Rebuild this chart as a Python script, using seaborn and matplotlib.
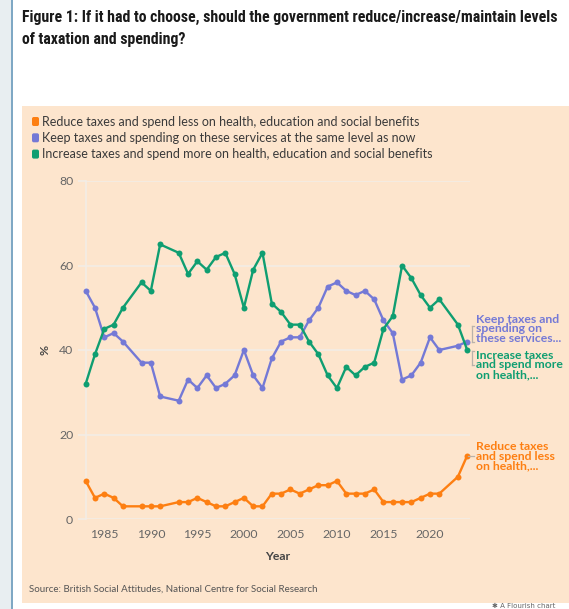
import matplotlib
matplotlib.use("Agg")
import matplotlib.pyplot as plt
from matplotlib.patches import Rectangle, FancyBboxPatch
from matplotlib.lines import Line2D
from matplotlib import font_manager
import seaborn as sns
import pandas as pd

years = [1983, 1984, 1985, 1986, 1987, 1989, 1990, 1991, 1993, 1994, 1995, 1996,
         1997, 1998, 1999, 2000, 2001, 2002, 2003, 2004, 2005, 2006, 2007, 2008,
         2009, 2010, 2011, 2012, 2013, 2014, 2015, 2016, 2017, 2018, 2019, 2020,
         2021, 2023, 2024]
reduce_vals = [9, 5, 6, 5, 3, 3, 3, 3, 4, 4, 5, 4, 3, 3, 4, 5, 3, 3, 6, 6, 7, 6, 7, 8,
               8, 9, 6, 6, 6, 7, 4, 4, 4, 4, 5, 6, 6, 10, 15]
keep_vals = [54, 50, 43, 44, 42, 37, 37, 29, 28, 33, 31, 34, 31, 32, 34, 40, 34, 31,
             38, 42, 43, 43, 47, 50, 55, 56, 54, 53, 54, 52, 47, 44, 33, 34, 37, 43,
             40, 41, 42]
increase_vals = [32, 39, 45, 46, 50, 56, 54, 65, 63, 58, 61, 59, 62, 63, 58, 50, 59, 63,
                 51, 49, 46, 46, 42, 39, 34, 31, 36, 34, 36, 37, 45, 48, 60, 57, 53, 50,
                 52, 46, 40]

series_names = [
    "Reduce taxes and spend less on health, education and social benefits",
    "Keep taxes and spending on these services at the same level as now",
    "Increase taxes and spend more on health, education and social benefits",
]
end_labels = [
    "Reduce taxes\nand spend less\non health,...",
    "Keep taxes and\nspending on\nthese services...",
    "Increase taxes\nand spend more\non health,...",
]
colors = ["#fd7f12", "#7479d6", "#0f9e71"]
x_ticks = [1985, 1990, 1995, 2000, 2005, 2010, 2015, 2020]
y_ticks = [0, 20, 40, 60, 80]
title = ("Figure 1: If it had to choose, should the government reduce/increase/maintain levels\n"
         "of taxation and spending?")
source = "Source: British Social Attitudes, National Centre for Social Research"

df = pd.concat([
    pd.DataFrame({"Year": years, "value": vals, "series": name})
    for name, vals in zip(series_names, [reduce_vals, keep_vals, increase_vals])
])

W, H = 569, 609
fig = plt.figure(figsize=(W / 100, H / 100), dpi=100)
fig.patch.set_facecolor("white")

def fx(x):
    return x / W

def fy(y):
    return 1 - y / H

PEACH = "#fde5cd"
fig.add_artist(Rectangle((0, 0), fx(11), 1, transform=fig.transFigure,
                         facecolor="#e8eef1", edgecolor="none", zorder=0))
fig.add_artist(Rectangle((fx(11), 0), fx(2), 1, transform=fig.transFigure,
                         facecolor="#7fa8c4", edgecolor="none", zorder=0))
fig.add_artist(Rectangle((fx(22), fy(603)), fx(W - 22), (603 - 106) / H,
                         transform=fig.transFigure, facecolor=PEACH,
                         edgecolor="none", zorder=0))

body_font = ["Lato", "DejaVu Sans"]

avail = {f.name for f in font_manager.fontManager.ttflist}
narrow = None
for cand in ["Liberation Sans Narrow", "DejaVu Sans Condensed", "Roboto Condensed",
             "Open Sans Condensed"]:
    if cand in avail:
        narrow = cand
        break
if narrow is None:
    title_kw = dict(family=["DejaVu Sans"], stretch="condensed")
else:
    title_kw = dict(family=[narrow, "DejaVu Sans"])

t = fig.text(fx(22), fy(10), title, ha="left", va="top", fontsize=12,
             fontweight="bold", color="#1a1a1a", linespacing=1.6, **title_kw)
renderer = fig.canvas.get_renderer()
w = t.get_window_extent(renderer=renderer).width
t.set_fontsize(min(12.5, 12 * 538 / w))

for i, (name, c) in enumerate(zip(series_names, colors)):
    yc = 121.5 + i * 16.3
    fig.add_artist(FancyBboxPatch((fx(32), fy(yc + 4.5)), fx(7), 9 / H,
                                  boxstyle="round,pad=0,rounding_size=0.003",
                                  transform=fig.transFigure, facecolor=c,
                                  edgecolor="none"))
    fig.text(fx(42), fy(yc), name, ha="left", va="center", fontsize=9.0,
             family=body_font, color="#3a3a3a")

ax = fig.add_axes([fx(85.7), fy(519), fx(470 - 85.7), (519 - 181) / H])
ax.set_facecolor(PEACH)

sns.lineplot(data=df, x="Year", y="value", hue="series", hue_order=series_names,
             palette=colors, marker="o", markersize=4.3, markeredgewidth=0,
             linewidth=1.7, ax=ax, legend=False, clip_on=False, zorder=3)

ax.set_xlim(1983, 2024.3)
ax.set_ylim(0, 80)
ax.set_xticks(x_ticks)
ax.set_yticks(y_ticks)
ax.grid(axis="y", color="#f3ede6", linewidth=1.2)
ax.grid(axis="x", visible=False)
ax.set_axisbelow(True)
for s in ["top", "right", "bottom"]:
    ax.spines[s].set_visible(False)
ax.spines["left"].set_color("#f3ede6")
ax.spines["left"].set_linewidth(1.2)
ax.tick_params(axis="y", length=6, color="#f3ede6", width=1.2, pad=3,
               labelcolor="#666666", labelsize=8.8)
ax.tick_params(axis="x", length=0, pad=7, labelcolor="#666666", labelsize=8.8)
for lab in ax.get_xticklabels() + ax.get_yticklabels():
    lab.set_family(body_font)
ax.set_xlabel("Year", fontsize=8.8, fontweight="bold", color="#444444",
              family=body_font, labelpad=8)
ax.set_ylabel("%", fontsize=8.8, fontweight="bold", color="#444444",
              family=body_font, labelpad=6)

label_y = [456, 329, 365]
for lab, c, yc in zip(end_labels, colors, label_y):
    fig.text(fx(476), fy(yc), lab, ha="left", va="center", fontsize=8.8,
             family=body_font, fontweight="bold", color=c, linespacing=0.85)
gray = "#b9b2aa"
def seg(x0, y0, x1, y1):
    fig.add_artist(Line2D([fx(x0), fx(x1)], [fy(y0), fy(y1)], transform=fig.transFigure,
                          color=gray, linewidth=0.9))
seg(472, 326, 472, 342); seg(472, 326, 474, 326); seg(472, 342, 474, 342)
seg(472, 351, 472, 365); seg(472, 351, 474, 351); seg(472, 365, 474, 365)
seg(468, 456, 474, 456)

fig.text(fx(29), fy(589), source, ha="left", va="center", fontsize=7.0,
         family=body_font, color="#555555")
fig.text(fx(492), fy(606), "\u2731 A Flourish chart", ha="left", va="center",
         fontsize=5, family=["DejaVu Sans"], color="#666666")

fig.savefig("out.png", dpi=100, facecolor="white")
